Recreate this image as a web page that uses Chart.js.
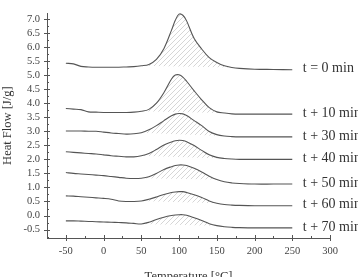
<!DOCTYPE html>
<html>
<head>
<meta charset="utf-8">
<script src="https://cdn.jsdelivr.net/npm/chart.js@4.4.0/dist/chart.umd.min.js"></script>
<style>
  html, body { margin: 0; padding: 0; background: #fff; overflow: hidden; }
  #wrap { width: 358px; height: 284px; }
</style>
</head>
<body>
<div id="wrap"><canvas id="dscChart"></canvas></div>
<script>
// DSC curves
const temps = [-50, -40, -30, -20, -10, 0, 10, 20, 30, 40, 50, 60, 70, 80, 90, 95, 100, 105, 110, 120, 130, 140, 150, 160, 170, 180, 200, 225, 250];

const run0  = [5.42, 5.40, 5.31, 5.29, 5.28, 5.28, 5.28, 5.28, 5.29, 5.30, 5.33, 5.38, 5.56, 5.95, 6.60, 6.95, 7.17, 7.13, 6.93, 6.30, 5.93, 5.62, 5.45, 5.33, 5.27, 5.24, 5.21, 5.20, 5.19];
const run10 = [3.81, 3.79, 3.77, 3.69, 3.68, 3.67, 3.67, 3.67, 3.67, 3.68, 3.71, 3.78, 4.00, 4.38, 4.86, 5.00, 5.01, 4.93, 4.78, 4.44, 4.12, 3.84, 3.69, 3.65, 3.62, 3.61, 3.61, 3.61, 3.61];
const run30 = [3.01, 3.01, 3.01, 3.00, 3.00, 2.97, 2.94, 2.92, 2.90, 2.91, 2.95, 3.05, 3.20, 3.38, 3.55, 3.61, 3.63, 3.62, 3.56, 3.38, 3.20, 2.99, 2.88, 2.83, 2.81, 2.80, 2.80, 2.80, 2.80];
const run40 = [2.27, 2.25, 2.23, 2.21, 2.19, 2.16, 2.13, 2.11, 2.09, 2.09, 2.13, 2.21, 2.35, 2.51, 2.62, 2.66, 2.68, 2.67, 2.63, 2.49, 2.32, 2.16, 2.07, 2.03, 2.01, 2.00, 2.00, 2.00, 2.00];
const run50 = [1.53, 1.50, 1.48, 1.46, 1.44, 1.42, 1.39, 1.36, 1.33, 1.32, 1.33, 1.38, 1.50, 1.64, 1.74, 1.78, 1.80, 1.80, 1.78, 1.68, 1.55, 1.40, 1.28, 1.20, 1.16, 1.14, 1.12, 1.12, 1.12];
const run60 = [0.70, 0.69, 0.67, 0.65, 0.63, 0.61, 0.58, 0.52, 0.50, 0.50, 0.52, 0.58, 0.66, 0.75, 0.82, 0.84, 0.85, 0.85, 0.82, 0.74, 0.64, 0.52, 0.44, 0.39, 0.37, 0.36, 0.35, 0.35, 0.35];
const run70 = [-0.19, -0.19, -0.20, -0.21, -0.22, -0.23, -0.24, -0.25, -0.26, -0.28, -0.30, -0.24, -0.14, -0.06, 0.00, 0.02, 0.03, 0.03, 0.01, -0.08, -0.18, -0.29, -0.36, -0.40, -0.42, -0.43, -0.44, -0.44, -0.44];

const runs = [run0, run10, run30, run40, run50, run60, run70];
const runLabels = ['t = 0 min', 't + 10 min', 't + 30 min', 't + 40 min', 't + 50 min', 't + 60 min', 't + 70 min'];

// integration limits of the hatched peak area (°C)
const peakFrom = [50, 50, 50, 50, 50, 50, 50];
const peakTo   = [170, 160, 160, 160, 150, 150, 150];

const xTicks = [-50, 0, 50, 100, 150, 200, 250, 300];
const yTicks = [-0.5, 0.0, 0.5, 1.0, 1.5, 2.0, 2.5, 3.0, 3.5, 4.0, 4.5, 5.0, 5.5, 6.0, 6.5, 7.0];

const LINE = '#555';
const TEXT = '#444';
const SERIF = '"Liberation Serif", "DejaVu Serif", serif';

// Diagonal hatch for the peak areas
function makeHatch() {
  const c = document.createElement('canvas');
  c.width = 5; c.height = 5;
  const g = c.getContext('2d');
  g.strokeStyle = '#cccccc';
  g.lineWidth = 0.8;
  g.beginPath();
  g.moveTo(0, 5); g.lineTo(5, 0);
  g.moveTo(-1, 1); g.lineTo(1, -1);
  g.moveTo(4, 6); g.lineTo(6, 4);
  g.stroke();
  return g.createPattern(c, 'repeat');
}
const hatch = makeHatch();

// Build datasets: curve, hatched peak, straight baseline
const datasets = [];
runs.forEach((run, i) => {
  const pts = temps.map((t, j) => ({ x: t, y: run[j] }));
  const a = temps.indexOf(peakFrom[i]);
  const b = temps.indexOf(peakTo[i]);

  datasets.push({
    label: runLabels[i],
    data: pts,
    borderColor: LINE,
    borderWidth: 1.1,
    pointRadius: 0,
    fill: false,
    tension: 0.35,
    clip: false,
  });
  datasets.push({
    label: runLabels[i] + ' area',
    data: pts.slice(a, b + 1),
    borderWidth: 0,
    borderColor: 'rgba(0,0,0,0)',
    pointRadius: 0,
    backgroundColor: hatch,
    fill: '+1',
    tension: 0.35,
  });
  datasets.push({
    label: runLabels[i] + ' baseline',
    data: [pts[a], pts[b]],
    borderWidth: 0,
    borderColor: 'rgba(0,0,0,0)',
    pointRadius: 0,
    fill: false,
  });
});

// Axis tick marks and the run labels at the right
const axisDecor = {
  id: 'axisDecor',
  afterDraw(chart) {
    const { ctx, chartArea, scales: { x, y } } = chart;
    ctx.save();
    ctx.strokeStyle = LINE;
    ctx.lineWidth = 1;
    ctx.beginPath();
    for (let v = -50; v <= 300; v += 25) {
      const px = Math.round(x.getPixelForValue(v)) + 0.5;
      const major = v % 50 === 0;
      ctx.moveTo(px, chartArea.bottom + (major ? 3 : 0));
      ctx.lineTo(px, chartArea.bottom - (major ? 3 : 2));
    }
    for (let k = -3; k <= 28; k++) {
      const py = Math.round(y.getPixelForValue(k * 0.25)) + 0.5;
      const major = k % 2 === 0;
      ctx.moveTo(chartArea.left - (major ? 3 : 0), py);
      ctx.lineTo(chartArea.left + (major ? 3 : 2), py);
    }
    ctx.stroke();

    ctx.font = '14px ' + SERIF;
    ctx.fillStyle = '#333';
    ctx.textBaseline = 'middle';
    ctx.textAlign = 'left';
    const lx = x.getPixelForValue(264);
    runs.forEach((run, i) => {
      ctx.fillText(runLabels[i], lx, y.getPixelForValue(run[run.length - 1]) - 1);
    });
    ctx.restore();
  },
};

new Chart(document.getElementById('dscChart'), {
  type: 'line',
  data: { datasets },
  options: {
    responsive: true,
    maintainAspectRatio: false,
    animation: false,
    layout: { padding: { top: 12, right: 28, left: 0, bottom: 0 } },
    plugins: {
      legend: { display: false },
      tooltip: { enabled: false },
    },
    scales: {
      x: {
        type: 'linear',
        min: -75,
        max: 300,
        afterFit: (scale) => { scale.height = 46; },
        afterBuildTicks: (scale) => { scale.ticks = xTicks.map(v => ({ value: v })); },
        grid: { display: false, drawTicks: false },
        border: { display: true, color: LINE, width: 1 },
        ticks: {
          padding: 7,
          color: TEXT,
          font: { family: SERIF, size: 10.5 },
          maxRotation: 0,
          autoSkip: false,
        },
        title: {
          display: true,
          text: 'Temperature [°C]',
          color: '#333',
          font: { family: SERIF, size: 12.5 },
          padding: 0,
        },
      },
      y: {
        min: -0.8,
        max: 7.2,
        afterFit: (scale) => { scale.width = 47; },
        afterBuildTicks: (scale) => { scale.ticks = yTicks.map(v => ({ value: v })); },
        grid: { display: false, drawTicks: false },
        border: { display: true, color: LINE, width: 1 },
        ticks: {
          padding: 7,
          color: TEXT,
          font: { family: SERIF, size: 10.5 },
          autoSkip: false,
          callback: (v) => Number(v).toFixed(1),
        },
        title: {
          display: true,
          text: 'Heat Flow [J/g]',
          color: '#333',
          font: { family: SERIF, size: 12.5 },
          padding: 0,
        },
      },
    },
  },
  plugins: [axisDecor],
});
</script>
</body>
</html>
